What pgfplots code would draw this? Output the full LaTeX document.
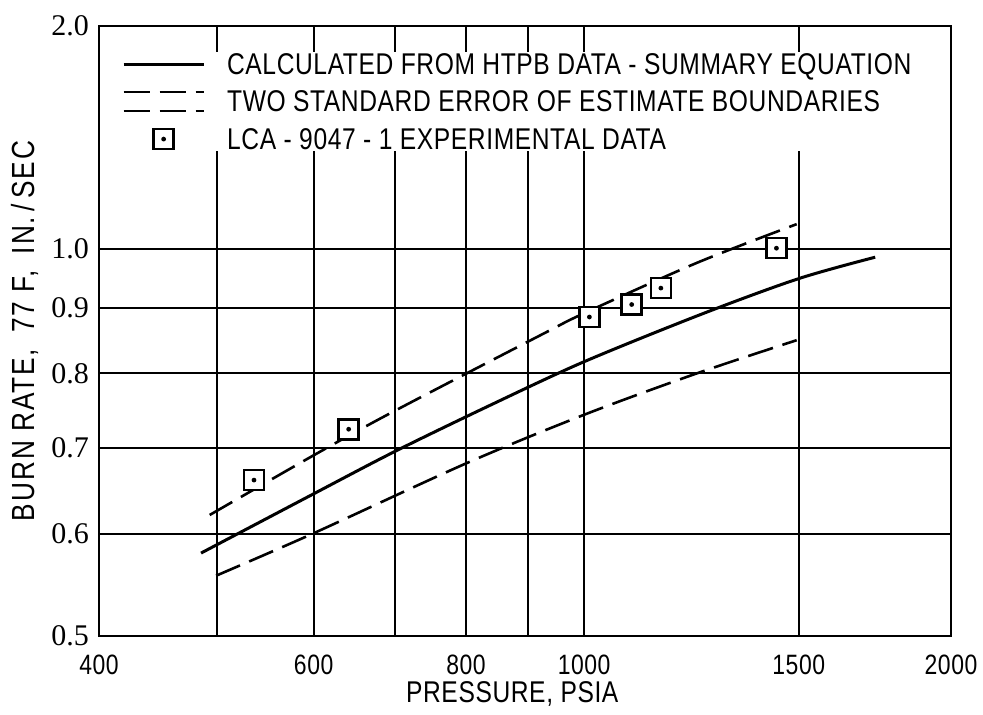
\documentclass[border=0pt]{standalone}
\usepackage{pgfplots}
\pgfplotsset{compat=1.18}
\usepackage{fontspec}
\setmainfont{Liberation Sans}[FakeStretch=0.82,LetterSpace=2]
\newfontfamily\numserif{Liberation Serif}

% open square with a centre dot
\pgfdeclareplotmark{sqdot}{%
  \pgfsetfillcolor{white}%
  \pgfpathrectangle{\pgfqpoint{-\pgfplotmarksize}{-\pgfplotmarksize}}%
    {\pgfqpoint{2\pgfplotmarksize}{2\pgfplotmarksize}}%
  \pgfusepathqfillstroke
  \pgfpathcircle{\pgfpointorigin}{0.24\pgfplotmarksize}%
  \pgfsetfillcolor{black}%
  \pgfusepathqfill}

% legend sample for the two boundary curves: a pair of dashed lines
\pgfdeclareplotmark{dbldash}{%
  \pgfsetlinewidth{1.3pt}%
  \pgfsetdash{{13pt}{5pt}}{0pt}%
  \pgfpathmoveto{\pgfqpoint{-20pt}{4.8pt}}\pgfpathlineto{\pgfqpoint{20pt}{4.8pt}}%
  \pgfpathmoveto{\pgfqpoint{-20pt}{-4.8pt}}\pgfpathlineto{\pgfqpoint{20pt}{-4.8pt}}%
  \pgfusepathqstroke}

\pgfplotsset{
  legsolid/.style={legend image code/.code={\draw[##1] (0pt,0pt) -- (40pt,0pt);}},
  legdash/.style={legend image code/.code={%
    \path[draw=none] (0pt,0pt) -- (40pt,0pt);
    \path[draw=none, mark=dbldash] plot coordinates {(20pt,0pt)};}},
  legmark/.style={legend image code/.code={\draw[mark repeat=2,mark phase=2,##1] plot coordinates {(0pt,0pt) (20pt,0pt) (40pt,0pt)};}},
}

\begin{document}
\begin{tikzpicture}
\begin{axis}[
  name=ax,
  scale only axis,
  width=426pt, height=305pt,
  xmode=log, ymode=log,
  xmin=400, xmax=2000, ymin=0.5, ymax=1.49,
  xtick={500,600,700,800,900,1000,1500},
  xticklabels={,600,,800,,1000,1500},
  extra x ticks={400,2000},
  extra x tick labels={400,2000},
  extra x tick style={grid=none},
  ytick={0.5,0.6,0.7,0.8,0.9,1.0},
  yticklabels={0.5,0.6,0.7,0.8,0.9,1.0},
  extra y ticks={1.4899},
  extra y tick labels={2.0},
  extra y tick style={grid=none},
  grid=major,
  major grid style={line width=1pt, black},
  axis line style={line width=1.3pt},
  major tick length=0pt,
  xticklabel style={font=\fontsize{14}{14}\selectfont, anchor=center, yshift=-14.25pt},
  yticklabel style={font=\numserif\fontsize{15}{15}\selectfont, xshift=-1.5pt},
  xlabel={PRESSURE, PSIA},
  xlabel style={font=\fontsize{15}{15}\selectfont, at={(axis description cs:0.485,-0.095)}, anchor=center},
  ylabel={BURN RATE,\enspace 77 F,\enspace IN.\,/\,SEC},
  ylabel style={font=\fontsize{16}{16}\selectfont\addfontfeature{LetterSpace=6}, at={(axis description cs:-0.0869,0.5)}, anchor=center},
  legend style={at={(axis description cs:0,1)}, anchor=north west,
    xshift=11.35pt, yshift=-12.85pt, draw=none, fill=white, inner sep=0pt,
    font=\fontsize{15}{15}\selectfont,
    nodes={inner sep=0pt, text height=11pt, text depth=1pt},
    row sep=6.75pt, column sep=11pt},
  legend cell align=left,
]
\addplot[black, line width=1.5pt, smooth, legsolid]
  coordinates {(485,0.580) (600,0.645) (700,0.696) (838,0.756) (1000,0.817) (1250,0.890) (1500,0.948) (1733,0.985)};
\addlegendentry{CALCULATED FROM HTPB DATA - SUMMARY EQUATION}

\addplot[black, line width=1.3pt, dash pattern=on 13pt off 5pt, smooth, legdash]
  coordinates {(493,0.621) (600,0.691) (697,0.747) (926,0.859) (1000,0.891) (1237,0.975) (1494,1.045)};
\addlegendentry{TWO STANDARD ERROR OF ESTIMATE BOUNDARIES}

\addplot[black, line width=1.3pt, dash pattern=on 13pt off 5pt, smooth, forget plot]
  coordinates {(499,0.557) (600,0.601) (800,0.681) (1000,0.743) (1237,0.800) (1494,0.849)};

\addplot[only marks, mark=sqdot, mark size=5pt,
  mark options={draw=black, line width=1.3pt, solid}, legmark]
  coordinates {(536,0.661) (641,0.724) (1010,0.885) (1094,0.905) (1156,0.932) (1438,1.001)};
\addlegendentry{LCA - 9047 - 1 EXPERIMENTAL DATA}
\end{axis}
\pgfresetboundingbox
\path[use as bounding box] ([shift={(-49.5pt,-39.5pt)}]ax.south west) rectangle ([shift={(16pt,13pt)}]ax.north east);
\end{tikzpicture}
\end{document}
